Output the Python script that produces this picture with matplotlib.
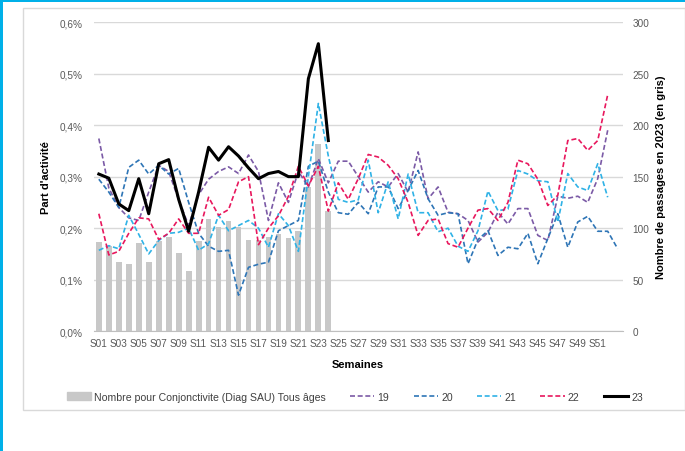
import matplotlib
matplotlib.use('Agg')
import matplotlib.pyplot as plt
from matplotlib.patches import Rectangle, Patch
from matplotlib.lines import Line2D
from matplotlib.ticker import FuncFormatter, MultipleLocator

plt.rcParams['font.family'] = ['Liberation Sans', 'DejaVu Sans']

# données
semaines = ['S%02d' % i for i in range(1, 54)]
nb_2023 = [87, 83, 67, 65, 86, 67, 88, 91, 76, 58, 88, 109, 101, 107, 101, 89,
           89, 91, 94, 90, 97, 140, 182, 117]

p19 = [0.374, 0.278, 0.240, 0.220, 0.215, 0.270, 0.322, 0.310, 0.255, 0.205,
       0.265, 0.295, 0.310, 0.319, 0.306, 0.342, 0.310, 0.215, 0.288, 0.250,
       0.310, 0.280, 0.335, 0.288, 0.330, 0.330, 0.300, 0.270, 0.290, 0.280,
       0.306, 0.270, 0.348, 0.257, 0.280, 0.231, 0.228, 0.215, 0.173, 0.192,
       0.231, 0.208, 0.238, 0.238, 0.186, 0.176, 0.262, 0.258, 0.262, 0.250,
       0.296, 0.390]
p20 = [0.295, 0.270, 0.240, 0.318, 0.332, 0.305, 0.322, 0.305, 0.316, 0.250,
       0.190, 0.165, 0.155, 0.157, 0.070, 0.124, 0.130, 0.134, 0.195, 0.205,
       0.215, 0.320, 0.330, 0.270, 0.230, 0.227, 0.250, 0.228, 0.280, 0.280,
       0.238, 0.273, 0.312, 0.257, 0.225, 0.230, 0.228, 0.131, 0.178, 0.195,
       0.147, 0.163, 0.160, 0.190, 0.131, 0.180, 0.228, 0.163, 0.212, 0.223,
       0.194, 0.194, 0.160]
p21 = [0.157, 0.166, 0.160, 0.225, 0.188, 0.150, 0.176, 0.190, 0.192, 0.200,
       0.157, 0.170, 0.225, 0.195, 0.205, 0.215, 0.200, 0.163, 0.228, 0.205,
       0.155, 0.300, 0.442, 0.340, 0.256, 0.250, 0.255, 0.332, 0.230, 0.290,
       0.218, 0.305, 0.230, 0.230, 0.193, 0.200, 0.165, 0.155, 0.195, 0.272,
       0.234, 0.237, 0.312, 0.305, 0.292, 0.290, 0.212, 0.306, 0.280, 0.273,
       0.325, 0.260]
p22 = [0.228, 0.148, 0.155, 0.190, 0.220, 0.218, 0.178, 0.190, 0.218, 0.190,
       0.190, 0.260, 0.225, 0.236, 0.290, 0.300, 0.168, 0.200, 0.224, 0.262,
       0.320, 0.282, 0.320, 0.233, 0.288, 0.256, 0.296, 0.343, 0.338, 0.322,
       0.296, 0.250, 0.186, 0.215, 0.218, 0.170, 0.163, 0.200, 0.235, 0.238,
       0.215, 0.250, 0.332, 0.325, 0.295, 0.244, 0.264, 0.370, 0.374, 0.351,
       0.370, 0.459]
p23 = [0.305, 0.297, 0.247, 0.234, 0.296, 0.228, 0.325, 0.333, 0.256, 0.194,
       0.270, 0.357, 0.332, 0.358, 0.340, 0.317, 0.296, 0.306, 0.310, 0.300,
       0.300, 0.490, 0.558, 0.370]

series = [('19', p19, '#7B5AA6'), ('20', p20, '#2E75B6'),
          ('21', p21, '#2FB2E6'), ('22', p22, '#E8175D')]
tiret = (0, (3, 1.6))

fig = plt.figure(figsize=(6.85, 4.52), dpi=100)
ax = fig.add_axes([0.137, 0.265, 0.772, 0.684])
axb = ax.twinx()

# barres (axe de droite) derrière les courbes
x_nb = list(range(1, len(nb_2023) + 1))
axb.bar(x_nb, nb_2023, width=0.58, color='#C8C8C8', zorder=2)
axb.set_ylim(0, 300)
axb.yaxis.set_major_locator(MultipleLocator(50))
axb.grid(axis='y', color='#D9D9D9', lw=1)
axb.set_axisbelow(True)
ax.set_zorder(axb.get_zorder() + 1)
ax.patch.set_visible(False)

for lab, vals, col in series:
    ax.plot(range(1, len(vals) + 1), vals, color=col, lw=1.2, linestyle=tiret)
ax.plot(range(1, len(p23) + 1), p23, color='black', lw=2.2)

ax.set_ylim(0, 0.6)
ax.set_xlim(0.5, 53.5)
ax.yaxis.set_major_locator(MultipleLocator(0.1))
ax.yaxis.set_major_formatter(FuncFormatter(lambda v, p: ('%.1f%%' % v).replace('.', ',')))
ax.set_xticks(range(1, 53, 2))
ax.set_xticklabels(semaines[0:52:2])

for a in (ax, axb):
    for s in a.spines.values():
        s.set_visible(False)
    a.tick_params(length=0, labelsize=7.2, labelcolor='#595959')
ax.spines['bottom'].set_visible(True)
ax.spines['bottom'].set_color('#BFBFBF')
ax.tick_params(axis='x', pad=5)
ax.tick_params(axis='y', pad=8)
axb.tick_params(axis='y', pad=7)

ax.set_xlabel('Semaines', fontsize=8, fontweight='bold', labelpad=8)
ax.set_ylabel("Part d'activité", fontsize=8, fontweight='bold', labelpad=6)
axb.set_ylabel('Nombre de passages en 2023 (en gris)', fontsize=8,
               fontweight='bold', labelpad=5)

handles = [Patch(color='#C8C8C8')]
for lab, vals, col in series:
    handles.append(Line2D([], [], color=col, lw=1.2, linestyle=tiret))
handles.append(Line2D([], [], color='black', lw=2.2))
labels = ['Nombre pour Conjonctivite (Diag SAU) Tous âges', '19', '20', '21', '22', '23']
leg = fig.legend(handles, labels, loc='center', bbox_to_anchor=(0.518, 0.12),
                 ncol=6, frameon=False, fontsize=7.6, handlelength=2.3,
                 columnspacing=2.3, handletextpad=0.3)
for t in leg.get_texts():
    t.set_color('#404040')

# cadres
fig.patches.append(Rectangle((23 / 685, 1 - 411 / 452), 662 / 685, 402 / 452,
                             transform=fig.transFigure, fill=False,
                             edgecolor='#D9D9D9', lw=1))
fig.patches.append(Rectangle((0, 0), 3 / 685, 1, transform=fig.transFigure,
                             color='#00B0E8', lw=0))
fig.patches.append(Rectangle((0, 1 - 3 / 452), 1, 3 / 452, transform=fig.transFigure,
                             color='#00B0E8', lw=0))

fig.savefig('out.png', dpi=100)
